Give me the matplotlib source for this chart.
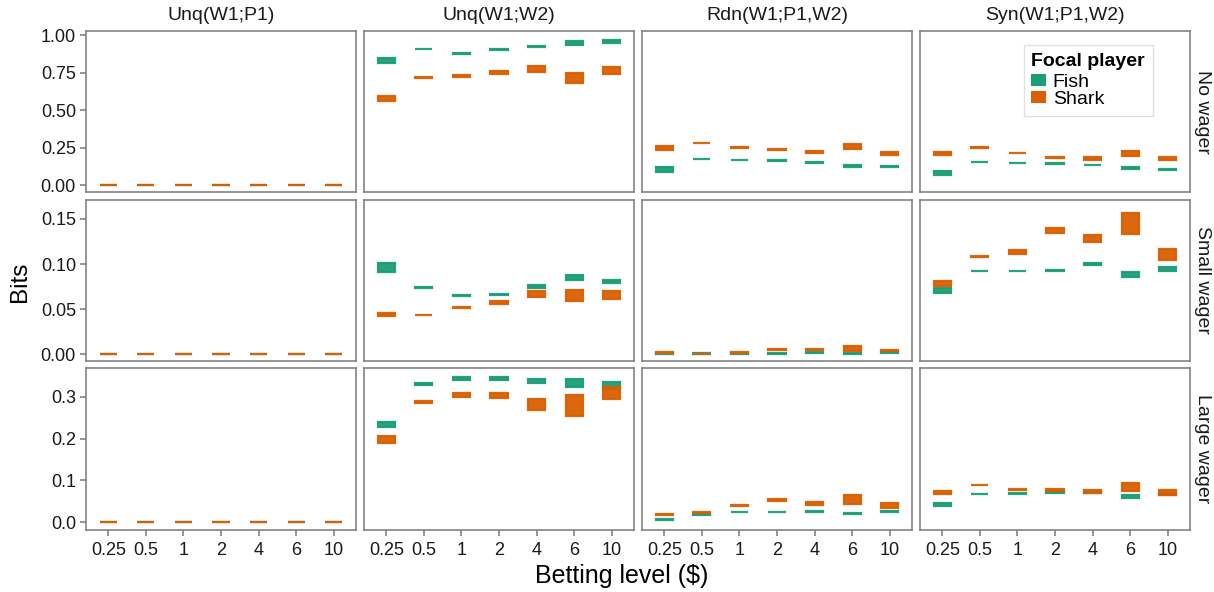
import matplotlib
matplotlib.use("Agg")
import matplotlib.pyplot as plt
from matplotlib.patches import Patch
import numpy as np

plt.rcParams['font.family'] = ['Liberation Sans', 'DejaVu Sans']

levels = ["0.25", "0.5", "1", "2", "4", "6", "10"]
metrics = ["Unq(W1;P1)", "Unq(W1;W2)", "Rdn(W1;P1,W2)", "Syn(W1;P1,W2)"]
wagers = ["No wager", "Small wager", "Large wager"]
players = ["Fish", "Shark"]
colors = {"Fish": "#1b9e77", "Shark": "#d95f02"}

# centre of each cluster of estimates and its half-spread, per metric (rows of the nested lists)
fish_no_mid = [[0, 0, 0, 0, 0, 0, 0],
               [0.831, 0.909, 0.878, 0.907, 0.927, 0.949, 0.960],
               [0.107, 0.174, 0.169, 0.165, 0.151, 0.129, 0.124],
               [0.082, 0.154, 0.149, 0.147, 0.134, 0.114, 0.107]]
fish_no_spread = [[0, 0, 0, 0, 0, 0, 0],
                  [0.017, 0.002, 0.002, 0.002, 0.004, 0.013, 0.010],
                  [0.017, 0.002, 0.002, 0.002, 0.003, 0.004, 0.002],
                  [0.014, 0.002, 0.002, 0.002, 0.002, 0.005, 0.003]]
shark_no_mid = [[0, 0, 0, 0, 0, 0, 0],
                [0.577, 0.719, 0.726, 0.753, 0.777, 0.715, 0.766],
                [0.251, 0.281, 0.254, 0.238, 0.223, 0.258, 0.214],
                [0.211, 0.251, 0.214, 0.187, 0.178, 0.211, 0.178]]
shark_no_spread = [[0, 0, 0, 0, 0, 0, 0],
                   [0.017, 0.002, 0.007, 0.010, 0.019, 0.032, 0.025],
                   [0.014, 0.002, 0.003, 0.004, 0.007, 0.017, 0.010],
                   [0.011, 0.002, 0.002, 0.002, 0.009, 0.018, 0.012]]

fish_small_mid = [[0, 0, 0, 0, 0, 0, 0],
                  [0.0961, 0.0737, 0.0656, 0.0667, 0.0752, 0.0851, 0.0807],
                  [0.0010, 0.0008, 0.0008, 0.0008, 0.0022, 0.0012, 0.0019],
                  [0.0704, 0.0925, 0.0922, 0.0932, 0.0999, 0.0881, 0.0944]]
fish_small_spread = [[0, 0, 0, 0, 0, 0, 0],
                     [0.0051, 0.0006, 0.0006, 0.0006, 0.0012, 0.0031, 0.0018],
                     [0.0003, 0.0003, 0.0003, 0.0003, 0.0003, 0.0003, 0.0003],
                     [0.0027, 0.0004, 0.0004, 0.0004, 0.0014, 0.0029, 0.0023]]
shark_small_mid = [[0, 0, 0, 0, 0, 0, 0],
                   [0.0439, 0.0435, 0.0519, 0.0579, 0.0671, 0.0652, 0.0660],
                   [0.0019, 0.0004, 0.0019, 0.0055, 0.0052, 0.0066, 0.0044],
                   [0.0781, 0.1083, 0.1135, 0.1370, 0.1282, 0.1452, 0.1105]]
shark_small_spread = [[0, 0, 0, 0, 0, 0, 0],
                      [0.0016, 0.0004, 0.0009, 0.0016, 0.0031, 0.0061, 0.0044],
                      [0.0003, 0.0003, 0.0004, 0.0005, 0.0007, 0.0025, 0.0008],
                      [0.0029, 0.0007, 0.0020, 0.0029, 0.0035, 0.0115, 0.0061]]

fish_large_mid = [[0, 0, 0, 0, 0, 0, 0],
                  [0.2326, 0.3294, 0.3429, 0.3429, 0.3365, 0.3325, 0.3262],
                  [0.0063, 0.0190, 0.0246, 0.0246, 0.0262, 0.0206, 0.0262],
                  [0.0429, 0.0675, 0.0698, 0.0722, 0.0722, 0.0619, 0.0690]]
fish_large_spread = [[0, 0, 0, 0, 0, 0, 0],
                     [0.0062, 0.0024, 0.0026, 0.0036, 0.0048, 0.0090, 0.0083],
                     [0.0012, 0.0008, 0.0008, 0.0008, 0.0008, 0.0015, 0.0015],
                     [0.0030, 0.0008, 0.0008, 0.0008, 0.0008, 0.0026, 0.0024]]
shark_large_mid = [[0, 0, 0, 0, 0, 0, 0],
                   [0.1984, 0.2865, 0.3040, 0.3024, 0.2802, 0.2794, 0.3079],
                   [0.0190, 0.0246, 0.0405, 0.0524, 0.0444, 0.0548, 0.0405],
                   [0.0714, 0.0889, 0.0778, 0.0762, 0.0738, 0.0850, 0.0707]]
shark_large_spread = [[0, 0, 0, 0, 0, 0, 0],
                      [0.0083, 0.0026, 0.0050, 0.0067, 0.0130, 0.0250, 0.0140],
                      [0.0020, 0.0012, 0.0020, 0.0024, 0.0038, 0.0107, 0.0050],
                      [0.0038, 0.0008, 0.0010, 0.0024, 0.0024, 0.0090, 0.0060]]

row_ticks = [[0.0, 0.25, 0.5, 0.75, 1.0], [0.0, 0.05, 0.10, 0.15], [0.0, 0.1, 0.2, 0.3]]
row_fmt = ["{:.2f}", "{:.2f}", "{:.1f}"]
row_lims = [(-0.047, 1.029), (-0.0073, 0.1713), (-0.0172, 0.367)]

data = {
    ("Fish", 0): (fish_no_mid, fish_no_spread),
    ("Shark", 0): (shark_no_mid, shark_no_spread),
    ("Fish", 1): (fish_small_mid, fish_small_spread),
    ("Shark", 1): (shark_small_mid, shark_small_spread),
    ("Fish", 2): (fish_large_mid, fish_large_spread),
    ("Shark", 2): (shark_large_mid, shark_large_spread),
}

W, H = 1214, 592
fig = plt.figure(figsize=(W / 100, H / 100), dpi=100)

left0, colw, gapc = 85.7, 270.6, 7.4
top0, rowh, gapr = 31.0, 161.3, 7.4
spine_c = "#7f7f7f"
x = np.arange(1, len(levels) + 1)

axes = {}
for r in range(3):
    for c in range(4):
        l = left0 + c * (colw + gapc)
        t = top0 + r * (rowh + gapr)
        ax = fig.add_axes([l / W, 1 - (t + rowh) / H, colw / W, rowh / H])
        axes[(r, c)] = ax
        for p in players:
            mid, spr = data[(p, r)]
            m = np.array(mid[c], dtype=float)
            s = np.array(spr[c], dtype=float)
            ax.bar(x, 2 * s, bottom=m - s, width=0.46, color=colors[p],
                   edgecolor=colors[p], linewidth=1.6, alpha=0.95, zorder=2 if p == "Fish" else 3)
        ax.set_xlim(0.4, 7.6)
        ax.set_ylim(*row_lims[r])
        for sp in ax.spines.values():
            sp.set_color(spine_c)
            sp.set_linewidth(1.15)
        ax.tick_params(colors=spine_c, labelcolor="#1a1a1a", length=4, width=1.15,
                       labelsize=13)
        ax.tick_params(axis="x", pad=5)
        ax.tick_params(axis="y", pad=3)
        ax.set_xticks(x)
        if r == 2:
            ax.set_xticklabels(levels)
        else:
            ax.tick_params(axis="x", bottom=False, labelbottom=False)
        ax.set_yticks(row_ticks[r])
        if c == 0:
            ax.set_yticklabels([row_fmt[r].format(v) for v in row_ticks[r]])
        else:
            ax.tick_params(axis="y", left=False, labelleft=False)
        if r == 0:
            ax.text(0.5, 1 + 16 / rowh, metrics[c], transform=ax.transAxes,
                    ha="center", va="center", fontsize=14, color="#1a1a1a")
        if c == 3:
            ax.text(1 + 12 / colw, 0.5, wagers[r], transform=ax.transAxes,
                    ha="center", va="center", rotation=270, fontsize=14, color="#1a1a1a")

fig.text(622 / W, 1 - 576 / H, "Betting level ($)", ha="center", va="center", fontsize=18)
fig.text(20 / W, 1 - 282 / H, "Bits", ha="center", va="center", rotation=90, fontsize=17.5)

handles = [Patch(facecolor=colors[p], edgecolor="none", label=p) for p in players]
leg = axes[(0, 3)].legend(handles=handles, title="Focal player", loc="upper left",
                          bbox_to_anchor=((1023 - 919) / colw, 1 - 14 / rowh),
                          borderaxespad=0, fancybox=False, frameon=True,
                          fontsize=14, title_fontproperties={"weight": "bold", "size": 14},
                          handlelength=0.75, handleheight=0.6, handletextpad=0.35,
                          labelspacing=0.0, borderpad=0.4)
leg.get_frame().set_edgecolor("#d9d9d9")
leg.get_frame().set_linewidth(1.0)
leg._legend_box.align = "left"
leg._legend_box.sep = 3

fig.savefig("out.png", dpi=100)
